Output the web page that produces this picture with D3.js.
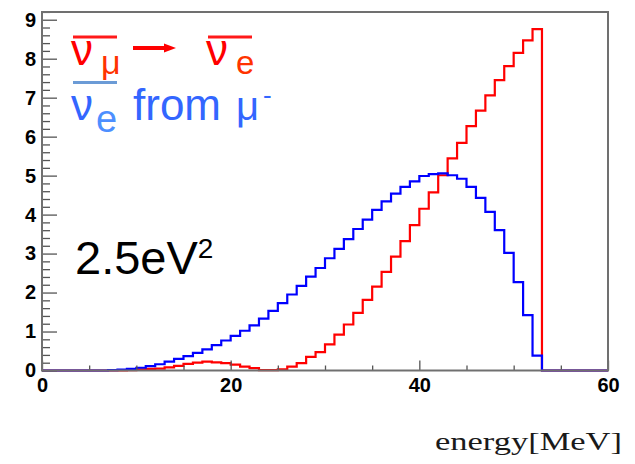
<!DOCTYPE html>
<html>
<head>
<meta charset="utf-8">
<script src="https://cdn.jsdelivr.net/npm/d3@7"></script>
<style>
  html, body { margin: 0; padding: 0; background: #fff; }
  svg { display: block; }
</style>
</head>
<body>
<svg id="chart" width="635" height="464"></svg>
<script>
// ---- data (1 MeV bins, 0..60 MeV) ----
const binEdges = d3.range(0, 61);           // 0..60
const xMajorTicks = [0, 20, 40, 60];
const xMinorTicks = [5, 10, 15, 25, 30, 35, 45, 50, 55];
const yMajorTicks = [0, 1, 2, 3, 4, 5, 6, 7, 8, 9];
const xLabel = "energy[MeV]";
const massLabel = "2.5eV";

// anti-nu_mu -> anti-nu_e (red)
const oscValues = [
  0, 0, 0, 0, 0, 0, 0, 0, 0, 0.01,
  0.03, 0.04, 0.05, 0.08, 0.12, 0.17, 0.20, 0.23, 0.21, 0.19,
  0.15, 0.10, 0.06, 0.01, 0.01, 0.03, 0.10, 0.19, 0.35, 0.47,
  0.67, 0.92, 1.18, 1.48, 1.81, 2.15, 2.53, 2.92, 3.32, 3.73,
  4.15, 4.57, 5.01, 5.44, 5.84, 6.27, 6.67, 7.06, 7.45, 7.81,
  8.15, 8.47, 8.76, 0, 0, 0, 0, 0, 0, 0
];
// anti-nu_e from mu- (blue)
const bgValues = [
  0, 0, 0, 0, 0, 0, 0, 0.01, 0.02, 0.04,
  0.07, 0.11, 0.16, 0.23, 0.30, 0.37, 0.45, 0.54, 0.65, 0.77,
  0.89, 1.02, 1.16, 1.33, 1.53, 1.73, 1.95, 2.17, 2.41, 2.63,
  2.88, 3.12, 3.37, 3.63, 3.87, 4.12, 4.34, 4.54, 4.71, 4.85,
  4.99, 5.04, 5.06, 5.01, 4.92, 4.71, 4.43, 4.07, 3.60, 3.02,
  2.27, 1.42, 0.38, 0, 0, 0, 0, 0, 0, 0
];

// ---- layout ----
const svg = d3.select("#chart");
const x = d3.scaleLinear().domain([0, 60]).range([42, 608]);
const y = d3.scaleLinear().domain([0, 9.198]).range([370.5, 12]);
const frameColor = "#707070";
const tickFont = "'Liberation Sans', Arial, Helvetica, sans-serif";

// histograms as step outlines
function stepPoints(vals) {
  const pts = vals.map((v, i) => [binEdges[i], v]);
  pts.push([binEdges[vals.length], vals[vals.length - 1]]);
  return pts;
}
const line = d3.line()
  .x(d => x(d[0]))
  .y(d => y(d[1]))
  .curve(d3.curveStepAfter);

svg.append("path")
  .attr("d", line(stepPoints(oscValues)))
  .attr("fill", "none").attr("stroke", "#ff0000").attr("stroke-width", 2.2);
svg.append("path")
  .attr("d", line(stepPoints(bgValues)))
  .attr("fill", "none").attr("stroke", "#0000ff").attr("stroke-width", 2.2);

// ---- axes ----
const yMinorTicks = d3.range(0, 9.2001, 0.2).filter(v => Math.abs(v - Math.round(v)) > 1e-6);

const gx = svg.append("g").attr("transform", `translate(0,${y(0)})`);
gx.call(d3.axisBottom(x).tickValues(xMinorTicks).tickSize(-5).tickFormat(""));
gx.call(g => g.select(".domain").remove());
const gx2 = svg.append("g").attr("transform", `translate(0,${y(0)})`);
gx2.call(d3.axisBottom(x).tickValues(xMajorTicks).tickSize(-10).tickPadding(7).tickFormat(d3.format("d")));
gx2.call(g => g.select(".domain").remove());

const gy = svg.append("g").attr("transform", `translate(${x(0)},0)`);
gy.call(d3.axisLeft(y).tickValues(yMinorTicks).tickSize(-8).tickFormat(""));
gy.call(g => g.select(".domain").remove());
const gy2 = svg.append("g").attr("transform", `translate(${x(0)},0)`);
gy2.call(d3.axisLeft(y).tickValues(yMajorTicks).tickSize(-15).tickPadding(6).tickFormat(d3.format("d")));
gy2.call(g => g.select(".domain").remove());

svg.selectAll(".tick line").attr("stroke", "#555").attr("stroke-width", 1.3);
svg.selectAll(".tick text")
  .attr("font-family", tickFont)
  .attr("font-weight", "bold")
  .attr("font-size", 20)
  .attr("fill", "#000");

// frame
svg.append("rect")
  .attr("x", x(0)).attr("y", y(9.198))
  .attr("width", x(60) - x(0)).attr("height", y(0) - y(9.198))
  .attr("fill", "none").attr("stroke", frameColor).attr("stroke-width", 2);

// ---- legend texts ----
const sans = "'Liberation Sans', Arial, Helvetica, sans-serif";
// red: anti-nu_mu -> anti-nu_e
svg.append("line").attr("x1", 73).attr("x2", 117).attr("y1", 37).attr("y2", 37)
  .attr("stroke", "#ff1a1a").attr("stroke-width", 3);
svg.append("text").attr("x", 71).attr("y", 65).attr("font-family", sans)
  .attr("font-size", 44).attr("fill", "#ff0000").text("ν");
svg.append("text").attr("x", 101).attr("y", 74).attr("font-family", sans)
  .attr("font-size", 34).attr("fill", "#ff3300").text("μ");
svg.append("line").attr("x1", 133).attr("x2", 168).attr("y1", 48).attr("y2", 48)
  .attr("stroke", "#ff0000").attr("stroke-width", 4);
svg.append("path").attr("d", "M164,43.5 L176,48 L164,52.5 Z").attr("fill", "#ff0000");
svg.append("line").attr("x1", 208).attr("x2", 252).attr("y1", 37).attr("y2", 37)
  .attr("stroke", "#ff1a1a").attr("stroke-width", 3);
svg.append("text").attr("x", 206).attr("y", 65).attr("font-family", sans)
  .attr("font-size", 44).attr("fill", "#ff0000").text("ν");
svg.append("text").attr("x", 236).attr("y", 74).attr("font-family", sans)
  .attr("font-size", 33).attr("fill", "#ff3300").text("e");

// blue: anti-nu_e from mu-
svg.append("line").attr("x1", 73).attr("x2", 117).attr("y1", 82.5).attr("y2", 82.5)
  .attr("stroke", "#6b9bd6").attr("stroke-width", 3);
svg.append("text").attr("x", 71).attr("y", 120).attr("font-family", sans)
  .attr("font-size", 44).attr("fill", "#3366ff").text("ν");
svg.append("text").attr("x", 96).attr("y", 132).attr("font-family", sans)
  .attr("font-size", 38).attr("fill", "#4d8fff").text("e");
svg.append("text").attr("x", 133).attr("y", 120).attr("font-family", sans)
  .attr("font-size", 44).attr("fill", "#3366ff").text("from");
svg.append("text").attr("x", 236).attr("y", 120).attr("font-family", sans)
  .attr("font-size", 40).attr("fill", "#3366ff").text("μ");
svg.append("text").attr("x", 263).attr("y", 104).attr("font-family", sans)
  .attr("font-size", 26).attr("fill", "#3366ff").text("-");

// mass label
const mt = svg.append("text").attr("x", 75).attr("y", 274).attr("font-family", sans)
  .attr("font-size", 47).attr("fill", "#000");
mt.append("tspan").text(massLabel);
mt.append("tspan").attr("dy", -16).attr("font-size", 28).text("2");

// x axis title
svg.append("text").attr("x", 435).attr("y", 450)
  .attr("font-family", "'Liberation Serif', 'Times New Roman', serif")
  .attr("font-size", 26).attr("fill", "#1a1a1a")
  .attr("textLength", 187).attr("lengthAdjust", "spacingAndGlyphs")
  .text(xLabel);
</script>
</body>
</html>
